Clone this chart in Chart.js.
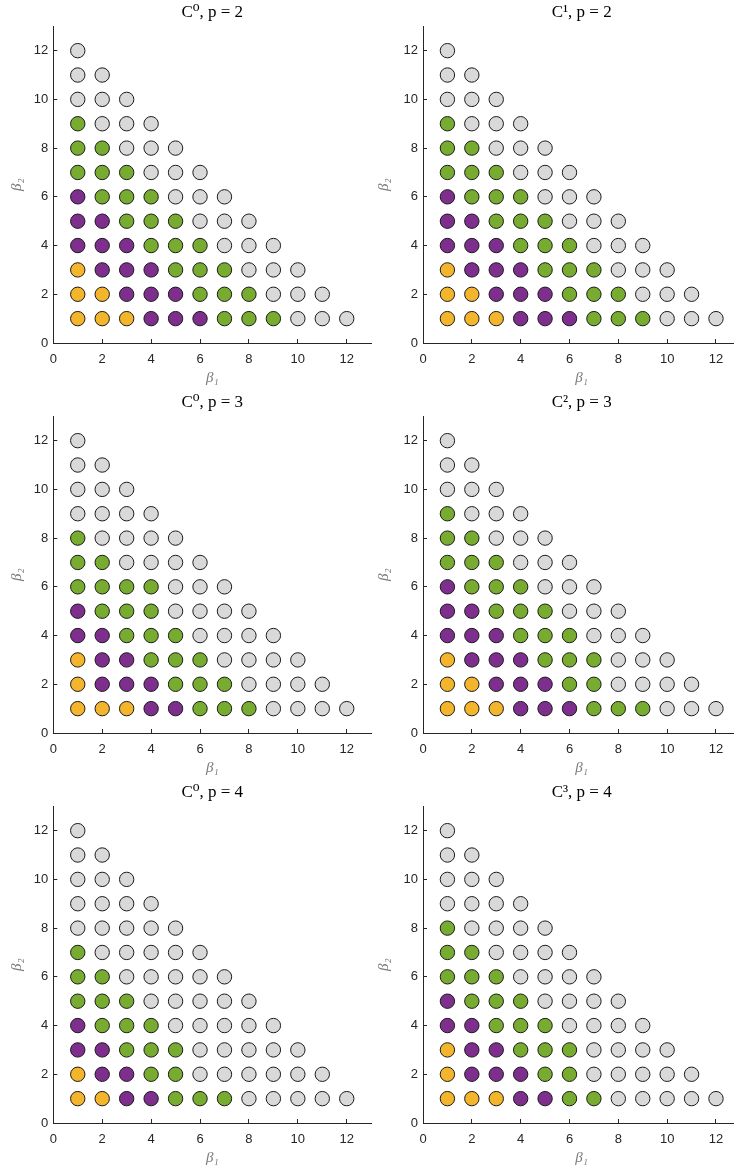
<!DOCTYPE html>
<html>
<head>
<meta charset="utf-8">
<script src="https://cdn.jsdelivr.net/npm/chart.js@4/dist/chart.umd.min.js"></script>
<style>
html, body { margin: 0; padding: 0; background: #ffffff; }
#wrap { position: relative; width: 734px; height: 1169px; overflow: hidden; background: #ffffff; }
#wrap canvas { position: absolute; }
</style>
</head>
<body>
<div id="wrap"></div>
<script>
// ---- data ----
// class codes: O = orange, P = purple, G = green, X = gray
const classCodes = ['O', 'P', 'G', 'X'];
const classColors = ['#F2B52C', '#7E2F8E', '#77AC30', '#D9D9D9'];

const panelTitles = ['C\u2070, p = 2', 'C\u00B9, p = 2', 'C\u2070, p = 3', 'C\u00B2, p = 3', 'C\u2070, p = 4', 'C\u00B3, p = 4'];
const xAxisLabel = '\u03B2\u2081';
const yAxisLabel = '\u03B2\u2082';
const tickValues = [0, 2, 4, 6, 8, 10, 12];

// each string is one row, beta2 = 1, 2, ... ; character k is beta1 = k + 1
const rowsC0p2 = ['OOOPPPGGGXXX', 'OOPPPGGGXXX', 'OPPPGGGXXX', 'PPPGGGXXX', 'PPGGGXXX', 'PGGGXXX', 'GGGXXX', 'GGXXX', 'GXXX', 'XXX', 'XX', 'X'];
const rowsC1p2 = ['OOOPPPGGGXXX', 'OOPPPGGGXXX', 'OPPPGGGXXX', 'PPPGGGXXX', 'PPGGGXXX', 'PGGGXXX', 'GGGXXX', 'GGXXX', 'GXXX', 'XXX', 'XX', 'X'];
const rowsC0p3 = ['OOOPPGGGXXXX', 'OPPPGGGXXXX', 'OPPGGGXXXX', 'PPGGGXXXX', 'PGGGXXXX', 'GGGGXXX', 'GGXXXX', 'GXXXX', 'XXXX', 'XXX', 'XX', 'X'];
const rowsC2p3 = ['OOOPPPGGGXXX', 'OOPPPGGXXXX', 'OPPPGGGXXX', 'PPPGGGXXX', 'PPGGGXXX', 'PGGGXXX', 'GGGXXX', 'GGXXX', 'GXXX', 'XXX', 'XX', 'X'];
const rowsC0p4 = ['OOPPGGGXXXXX', 'OPPGGXXXXXX', 'PPGGGXXXXX', 'PGGGXXXXX', 'GGGXXXXX', 'GGXXXXX', 'GXXXXX', 'XXXXX', 'XXXX', 'XXX', 'XX', 'X'];
const rowsC3p4 = ['OOOPPGGXXXXX', 'OPPPGGXXXXX', 'OPPGGGXXXX', 'PPGGGXXXX', 'PGGGXXXX', 'GGGXXXX', 'GGXXXX', 'GXXXX', 'XXXX', 'XXX', 'XX', 'X'];

const panelRows = [rowsC0p2, rowsC1p2, rowsC0p3, rowsC2p3, rowsC0p4, rowsC3p4];

// ---- layout ----
const cols = [
  { left: 0, width: 372, yw: 53.3, padR: 0.8 },
  { left: 367, width: 374, yw: 56, padR: 0.6 }
];
const rowTops = [0, 390, 780];
const axisColor = '#262626';
const tickFont = { family: "'Liberation Sans', Arial, Helvetica, sans-serif", size: 13 };
const labelFont = { family: "'Liberation Serif', 'DejaVu Serif', serif", size: 15, style: 'italic' };
const titleFont = { family: "'Liberation Serif', 'DejaVu Serif', serif", size: 17, weight: 'normal' };

function buildDatasets(rows) {
  return classCodes.map((code, ci) => {
    const pts = [];
    rows.forEach((row, r) => {
      for (let k = 0; k < row.length; k++) {
        if (row[k] === code) pts.push({ x: k + 1, y: r + 1 });
      }
    });
    return {
      label: code,
      data: pts,
      backgroundColor: classColors[ci],
      borderColor: '#1a1a1a',
      borderWidth: 1,
      pointRadius: 7.2,
      pointHoverRadius: 7.2
    };
  });
}

const wrap = document.getElementById('wrap');
panelRows.forEach((rows, i) => {
  const col = cols[i % 2];
  const top = rowTops[Math.floor(i / 2)];
  const cv = document.createElement('canvas');
  cv.width = col.width; cv.height = 390;
  cv.style.left = col.left + 'px'; cv.style.top = top + 'px';
  cv.style.width = col.width + 'px'; cv.style.height = '390px';
  wrap.appendChild(cv);

  const axisCommon = {
    type: 'linear', min: 0, max: 13,
    afterBuildTicks: s => { s.ticks = tickValues.map(v => ({ value: v })); },
    grid: { display: true, drawOnChartArea: false, drawTicks: true, tickLength: -4, color: axisColor, lineWidth: 1 },
    border: { display: true, color: axisColor, width: 1 }
  };

  new Chart(cv, {
    type: 'scatter',
    data: { datasets: buildDatasets(rows) },
    options: {
      responsive: false,
      devicePixelRatio: 1,
      animation: false,
      events: [],
      layout: { autoPadding: false, padding: { left: 0, right: col.padR, top: 0, bottom: 0 } },
      plugins: {
        legend: { display: false },
        tooltip: { enabled: false },
        title: {
          display: true, text: panelTitles[i], fullSize: false,
          font: titleFont, color: '#000000',
          padding: { top: 2.6, bottom: 3.3 }
        }
      },
      scales: {
        x: Object.assign({}, axisCommon, {
          position: 'bottom',
          ticks: { font: tickFont, color: axisColor, padding: 12.2, maxRotation: 0, autoSkip: false },
          title: { display: true, text: xAxisLabel, font: labelFont, color: '#7a7a7a', padding: { top: 0, bottom: 3 } },
          afterFit: s => { s.height = 47; s.paddingLeft = 0; s.paddingRight = 0; }
        }),
        y: Object.assign({}, axisCommon, {
          position: 'left',
          ticks: { font: tickFont, color: axisColor, padding: 9, autoSkip: false },
          title: { display: true, text: yAxisLabel, font: labelFont, color: '#7a7a7a', padding: { top: 8.5, bottom: 0 } },
          afterFit: s => { s.width = col.yw; s.paddingTop = 0; s.paddingBottom = 0; }
        })
      }
    }
  });
});
</script>
</body>
</html>
